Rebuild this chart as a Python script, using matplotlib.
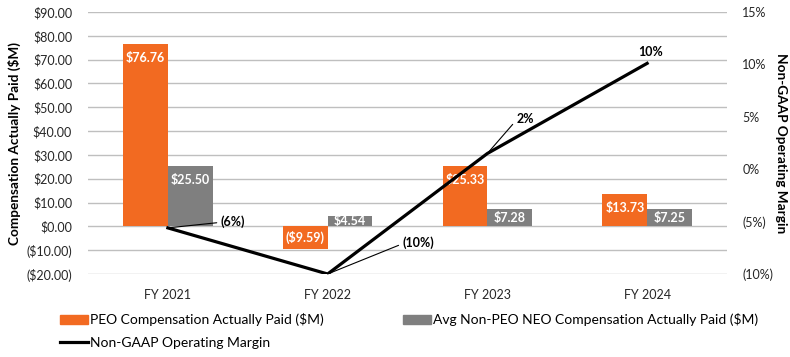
import matplotlib
matplotlib.use("Agg")
import matplotlib.pyplot as plt
import numpy as np
from matplotlib.ticker import FuncFormatter
from matplotlib.patches import Patch
from matplotlib.lines import Line2D

years = ["FY 2021", "FY 2022", "FY 2023", "FY 2024"]
peo_cap = [76.76, -9.59, 25.33, 13.73]
neo_cap = [25.50, 4.54, 7.28, 7.25]
margin = [-5.6, -10.0, 1.5, 10.1]
margin_labels = ["(6%)", "(10%)", "2%", "10%"]

ORANGE = "#F26A21"
GRAY = "#7F7F7F"
FONT = "Lato"
TXT = "#262626"

plt.rcParams['font.family'] = [FONT, 'DejaVu Sans']

fig = plt.figure(figsize=(7.9, 3.57), dpi=100)
ax = fig.add_axes([88/790, 1-274/357, (727-88)/790, (274-12)/357])
ax2 = ax.twinx()

x = np.arange(len(years))
w = 0.28
b1 = ax.bar(x - w/2, peo_cap, w, color=ORANGE, zorder=3)
b2 = ax.bar(x + w/2, neo_cap, w, color=GRAY, zorder=3)

ax.set_ylim(-20, 90)
ax.set_yticks(np.arange(-20, 91, 10))
ax.set_xlim(-0.5, 3.5)
ax.set_xticks(x)
ax.set_xticklabels(years)
ax.yaxis.grid(True, color="#BFBFBF", lw=1, zorder=0)
ax.set_axisbelow(True)

def money(v, pos=None):
    return f"(${abs(v):.2f})" if v < 0 else f"${v:.2f}"

def pct(v, pos=None):
    return f"({abs(v):.0f}%)" if v < 0 else f"{v:.0f}%"

ax.yaxis.set_major_formatter(FuncFormatter(money))
ax2.set_ylim(-10, 15)
ax2.set_yticks(np.arange(-10, 16, 5))
ax2.yaxis.set_major_formatter(FuncFormatter(pct))

for a in (ax, ax2):
    for s in a.spines.values():
        s.set_visible(False)
ax.xaxis.set_tick_params(length=0, pad=11, labelsize=9, labelcolor=TXT)
ax.yaxis.set_tick_params(length=0, pad=11.5, labelsize=9, labelcolor=TXT)
ax2.yaxis.set_tick_params(length=0, pad=11, labelsize=9, labelcolor=TXT)

ax.set_ylabel("Compensation Actually Paid ($M)", fontsize=9.8, fontweight="bold", labelpad=4)
ax2.set_ylabel("Non-GAAP Operating Margin", fontsize=9.8, fontweight="bold", rotation=-90, labelpad=10)

# bar labels (inside end)
pix_per_unit = (274-12)/110
for bars, vals in ((b1, peo_cap), (b2, neo_cap)):
    for rect, v in zip(bars, vals):
        hpx = abs(v) * pix_per_unit
        off = min(14, hpx/2)
        sign = -1 if v >= 0 else 1
        ax.annotate(money(v), (rect.get_x() + rect.get_width()/2, v),
                    xytext=(0, sign*off), textcoords="offset pixels",
                    ha="center", va="center", color="white", fontsize=9,
                    fontweight="bold", zorder=5)

ax2.plot(x, margin, color="black", lw=2.3, zorder=4)

# line labels with leader lines (offsets in pixels)
offsets = [(53, 6), (75, 31), (29, 34), (3, 11)]
for i, (xi, m, lab) in enumerate(zip(x, margin, margin_labels)):
    dx, dy = offsets[i]
    if i < 3:
        ax2.annotate(lab, (xi, m), xytext=(dx, dy), textcoords="offset pixels",
                     ha="left", va="center", fontsize=9, fontweight="bold",
                     arrowprops=dict(arrowstyle="-", color="black", lw=0.8,
                                     shrinkA=1, shrinkB=0,
                                     connectionstyle="angle,angleA=0,angleB=%d,rad=0" % (np.degrees(np.arctan2(dy, dx)))),
                     zorder=6)
    else:
        ax2.annotate(lab, (xi, m), xytext=(dx, dy), textcoords="offset pixels",
                     ha="center", va="center", fontsize=9, fontweight="bold", zorder=6)

handles = [Patch(color=ORANGE), Line2D([], [], color="black", lw=2.3), Patch(color=GRAY)]
labels = ["PEO Compensation Actually Paid ($M)", "Non-GAAP Operating Margin",
          "Avg Non-PEO NEO Compensation Actually Paid ($M)"]
fig.legend(handles, labels, ncol=2, loc="upper left", bbox_to_anchor=(60/790, 1-313/357),
           frameon=False, fontsize=10, handlelength=2.0, handleheight=0.6,
           handletextpad=0.15, columnspacing=5.7, labelspacing=0.8, borderaxespad=0,
           borderpad=0)

fig.savefig("out.png", dpi=100)
